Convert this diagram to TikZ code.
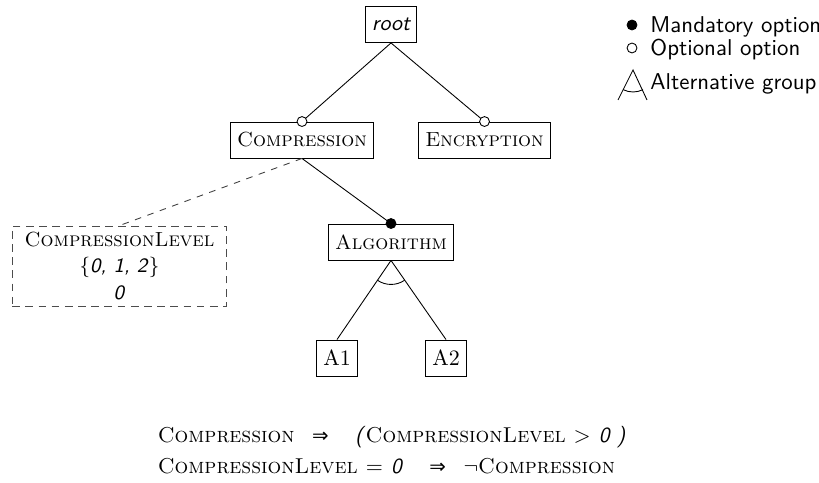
\documentclass[tikz,border=0pt]{standalone}
\usepackage{amsmath}
\usepackage{fontspec}
\usepackage{tikz}
\usetikzlibrary{positioning, calc}

\newfontfamily\arrowfont{DejaVu Sans}
\newcommand{\featfont}{\fontsize{9.3pt}{12pt}\selectfont\scshape}
\newcommand{\consfont}{\fontsize{9.8pt}{12pt}\selectfont\scshape}
\newcommand{\impl}{{\arrowfont\fontsize{9pt}{10pt}\selectfont ⇒}}

\begin{document}
\begin{tikzpicture}[x=0.455pt, y=0.455pt,
	FeatNode/.style={draw, rectangle, minimum height=16.4pt, inner xsep=3pt, font=\featfont},
	AttrNode/.style={draw=black!70, dash pattern=on 3.5pt off 2.5pt, align=center, minimum width=97.7pt, minimum height=36.4pt, inner sep=2pt, font=\featfont},
	MandNode/.style={circle, draw, fill=black, inner sep=0pt, minimum size=4.5pt},
	OptNode/.style={circle, draw, fill=white, inner sep=0pt, minimum size=4.5pt},
	LegNode/.style={font=\fontsize{10.4pt}{12pt}\selectfont\sffamily, anchor=west, inner sep=0pt}]

	\useasboundingbox (0,0) rectangle (819,483);

	% Nodes
	\node[FeatNode, font=\sffamily\itshape] (RootNode) at (391,458.5) {root};
	\node[FeatNode] (CompNode) at (302,343) {Compression};
	\node[FeatNode] (EncNode) at (484.5,343) {Encryption};
	\node[FeatNode] (AlgoNode) at (391,241) {Algorithm};
	\node[FeatNode, font=\normalfont] (AOneNode) at (337,125) {A1};
	\node[FeatNode, font=\normalfont] (ATwoNode) at (446,125) {A2};
	\node[AttrNode] (LevelNode) at (119.5,217)
		{CompressionLevel\\ \normalfont\{\textsf{\textit{0, 1, 2}}\}\\ \textsf{\textit{0}}};

	% Lines
	\draw (RootNode.south) -- (CompNode.north);
	\draw (RootNode.south) -- (EncNode.north);
	\draw (CompNode.south) -- (AlgoNode.north);
	\draw (AlgoNode.south) -- (AOneNode.north);
	\draw (AlgoNode.south) -- (ATwoNode.north);
	\draw[dashed, black!75] (CompNode.south) -- (LevelNode.north);
	\draw (AlgoNode.south) ++(235.6:24) arc[start angle=235.6, end angle=304.4, radius=24];

	% Markers
	\node[OptNode] (CompOpt) at (CompNode.north) {};
	\node[OptNode] (EncOpt) at (EncNode.north) {};
	\node[MandNode] (AlgoMand) at (AlgoNode.north) {};

	% Legend
	\node[MandNode] (LegMand) at (632,458) {};
	\node[OptNode] (LegOpt) at (632,435) {};
	\node[LegNode] (LegMandText) at (650,456) {Mandatory option};
	\node[LegNode] (LegOptText) at (650,433) {Optional option};
	\node[LegNode] (LegAltText) at (650,399) {Alternative group};
	\coordinate (AltTop) at (633,413);
	\coordinate (AltLeft) at (618,383);
	\coordinate (AltRight) at (647,383);
	\draw (AltLeft) -- (AltTop) -- (AltRight);
	\draw (AltTop) ++(243:22) arc[start angle=243, end angle=297, radius=22];

	% Constraints
	\node[anchor=west, font=\consfont] (ConsOne) at (150,46)
		{Compression\hspace{8pt}\impl\hspace{12pt}\textsf{\textit{(}}CompressionLevel $>$ \textsf{\textit{0 )}}};
	\node[anchor=west, font=\consfont] (ConsTwo) at (150,17)
		{CompressionLevel $=$ \textsf{\textit{0}}\hspace{12pt}\impl\hspace{8pt}$\neg$Compression};
\end{tikzpicture}
\end{document}
